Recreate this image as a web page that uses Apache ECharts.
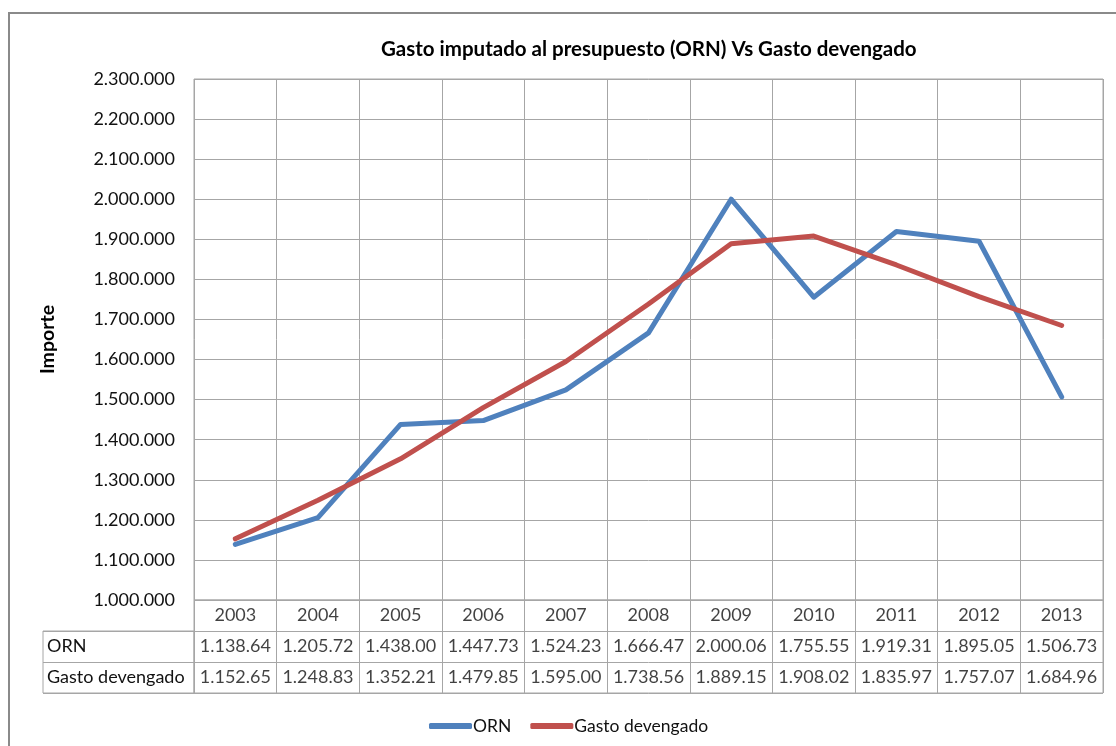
<!DOCTYPE html>
<html>
<head>
<meta charset="utf-8">
<script src="https://cdn.jsdelivr.net/npm/echarts@6/dist/echarts.min.js"></script>
<style>
  html, body { margin: 0; padding: 0; background: #fff; }
  #chart { width: 1116px; height: 746px; }
</style>
</head>
<body>
<div id="chart"></div>
<script>
// data
const years = ['2003', '2004', '2005', '2006', '2007', '2008', '2009', '2010', '2011', '2012', '2013'];
const orn = [1138640, 1205720, 1438000, 1447730, 1524230, 1666470, 2000060, 1755550, 1919310, 1895050, 1506730];
const gasto = [1152650, 1248830, 1352210, 1479850, 1595000, 1738560, 1889150, 1908020, 1835970, 1757070, 1684960];
const seriesNames = ['ORN', 'Gasto devengado'];

const FONT = 'Lato';
const TXT = '#111';
const GRIDC = '#a6a6a6';
const FS = 18;

// 1138640 -> "1.138.640", cut like the narrow excel cell does
const dots = v => String(Math.round(v)).replace(/\B(?=(\d{3})+(?!\d))/g, '.');
const cell = v => dots(v).slice(0, 8);

// table cells (header row, ORN row, Gasto row)
let tableCells = [];
years.forEach((y, i) => {
    tableCells = [...tableCells, { value: [i, 0], name: y }];
    tableCells = [...tableCells, { value: [i, 1], name: cell(orn[i]) }];
    tableCells = [...tableCells, { value: [i, 2], name: cell(gasto[i]) }];
});

const myChart = echarts.init(document.getElementById('chart'), null, { renderer: 'canvas' });

const option = {
    animation: false,
    textStyle: { fontFamily: FONT },
    title: {
        text: 'Gasto imputado al presupuesto (ORN) Vs Gasto devengado',
        left: 376,
        top: 34,
        textStyle: { fontFamily: FONT, fontSize: 20.5, fontWeight: 'bold', color: '#000' }
    },
    legend: {
        data: seriesNames,
        left: 424,
        top: 712,
        icon: 'roundRect',
        itemWidth: 43,
        itemHeight: 6,
        itemGap: 19,
        textStyle: { fontFamily: FONT, fontSize: 17.5, color: TXT, padding: [0, 0, 0, -4] }
    },
    graphic: [{
        type: 'rect',
        shape: { x: 9, y: 13, width: 1400, height: 1000 },
        style: { fill: 'none', stroke: '#8a8a8a', lineWidth: 2 },
        silent: true
    }],
    grid: [
        { left: 194, right: 13, top: 79, height: 521, show: true, borderColor: GRIDC, borderWidth: 1 },
        { left: 194, right: 13, top: 600, height: 93, show: true, borderColor: GRIDC, borderWidth: 1 },
        { left: 43, width: 151, top: 631, height: 62, show: true, borderColor: GRIDC, borderWidth: 1 }
    ],
    xAxis: [
        {
            gridIndex: 0, type: 'category', data: years, boundaryGap: true,
            axisLine: { show: false }, axisTick: { show: false }, axisLabel: { show: false },
            splitLine: { show: true, lineStyle: { color: GRIDC, width: 1 } }
        },
        {
            gridIndex: 1, type: 'category', data: years, boundaryGap: true,
            axisLine: { show: false }, axisTick: { show: false }, axisLabel: { show: false },
            splitLine: { show: true, lineStyle: { color: GRIDC, width: 1 } }
        },
        { gridIndex: 2, type: 'value', show: false }
    ],
    yAxis: [
        {
            gridIndex: 0, type: 'value', min: 1000000, max: 2300000, interval: 100000,
            name: 'Importe', nameLocation: 'middle', nameGap: 136,
            nameTextStyle: { fontFamily: FONT, fontSize: 19.5, fontWeight: 'bold', color: '#000' },
            axisLine: { show: false }, axisTick: { show: false },
            axisLabel: { margin: 19, fontSize: FS, color: TXT, fontFamily: FONT, formatter: v => dots(v) },
            splitLine: { show: true, lineStyle: { color: GRIDC, width: 1 } }
        },
        {
            gridIndex: 1, type: 'category', inverse: true, data: ['', seriesNames[0], seriesNames[1]],
            axisLine: { show: false }, axisTick: { show: false }, axisLabel: { show: false },
            splitLine: { show: true, lineStyle: { color: GRIDC, width: 1 } }
        },
        {
            gridIndex: 2, type: 'category', inverse: true, data: seriesNames,
            axisLine: { show: false }, axisTick: { show: false },
            axisLabel: { inside: true, margin: 4, fontSize: FS, color: TXT, fontFamily: FONT },
            splitLine: { show: true, lineStyle: { color: GRIDC, width: 1 } }
        }
    ],
    series: [
        {
            name: seriesNames[0], type: 'line', xAxisIndex: 0, yAxisIndex: 0, data: orn,
            showSymbol: false, symbol: 'none', color: '#4f81bd',
            lineStyle: { width: 5, color: '#4f81bd', cap: 'round', join: 'round' }
        },
        {
            name: seriesNames[1], type: 'line', xAxisIndex: 0, yAxisIndex: 0, data: gasto,
            showSymbol: false, symbol: 'none', color: '#c0504d',
            lineStyle: { width: 5, color: '#c0504d', cap: 'round', join: 'round' }
        },
        {
            name: 'tabla', type: 'scatter', xAxisIndex: 1, yAxisIndex: 1, data: tableCells,
            symbolSize: 0, silent: true,
            label: { show: true, position: 'inside', formatter: '{b}', fontSize: FS, color: TXT, fontFamily: FONT }
        }
    ]
};

option && myChart.setOption(option);
</script>
</body>
</html>
